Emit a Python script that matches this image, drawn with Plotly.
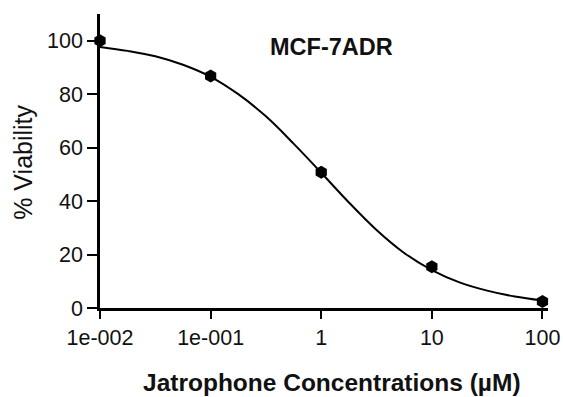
import plotly.graph_objects as go

# Measured data points
conc = [0.01, 0.1, 1, 10, 100]
viability = [100, 86.8, 50.8, 15.4, 2.4]

# Fitted curve (every quarter decade)
curve_conc = [0.01, 0.01778, 0.03162, 0.05623, 0.1, 0.1778, 0.3162, 0.5623,
              1, 1.778, 3.162, 5.623, 10, 17.78, 31.62, 56.23, 100]
curve_viab = [97.7, 96.2, 94.2, 91.0, 86.5, 80.0, 71.7, 61.5,
              50.6, 39.5, 29.2, 20.6, 14.2, 9.6, 6.5, 4.3, 2.8]

tick_vals = [0.01, 0.1, 1, 10, 100]
tick_text = ["1e-002", "1e-001", "1", "10", "100"]
y_ticks = [0, 20, 40, 60, 80, 100]

FONT = "Liberation Sans, Arial, sans-serif"

fig = go.Figure()
fig.add_trace(go.Scatter(x=curve_conc, y=curve_viab, mode="lines",
                         line=dict(color="black", width=2, shape="spline"),
                         hoverinfo="skip", showlegend=False, cliponaxis=False))
fig.add_trace(go.Scatter(x=conc, y=viability, mode="markers",
                         marker=dict(symbol="hexagon", size=13, color="black"),
                         showlegend=False, cliponaxis=False))

fig.update_layout(
    width=563, height=397,
    margin=dict(l=100, r=15, t=14, b=89),
    paper_bgcolor="white", plot_bgcolor="white",
    font=dict(family=FONT, color="black"),
    annotations=[
        dict(text="<b>MCF-7ADR</b>", x=0.516, y=0.888, xref="paper", yref="paper",
             xanchor="center", yanchor="middle", showarrow=False,
             font=dict(size=23.5, family=FONT, color="#111")),
        dict(text="<b>Jatrophone Concentrations (µM)</b>", x=0.518, y=-0.255,
             xref="paper", yref="paper", xanchor="center", yanchor="middle",
             showarrow=False, font=dict(size=24.5, family=FONT, color="#111")),
        dict(text="% Viability", x=-0.172, y=0.497, xref="paper", yref="paper",
             xanchor="center", yanchor="middle", textangle=-90,
             showarrow=False, font=dict(size=25, family=FONT, color="#111")),
    ],
)
fig.update_xaxes(type="log", range=[-2, 2.05], tickvals=tick_vals, ticktext=tick_text,
                 showline=True, linecolor="black", linewidth=2.5,
                 ticks="outside", ticklen=8, tickwidth=2, tickcolor="black",
                 showgrid=False, zeroline=False, automargin=False,
                 tickfont=dict(size=21.5, family=FONT, color="#111"))
fig.update_yaxes(range=[0, 110], tickvals=y_ticks,
                 showline=True, linecolor="black", linewidth=2.5,
                 ticks="outside", ticklen=10, tickwidth=2, tickcolor="black",
                 showgrid=False, zeroline=False, automargin=False,
                 tickfont=dict(size=21.5, family=FONT, color="#111"))

# remove the browser's default 8px page margin so the figure fills the window
fig.write_html("out.html", config={"displayModeBar": False},
               post_script="document.body.style.margin='0';document.body.style.overflow='hidden';")
